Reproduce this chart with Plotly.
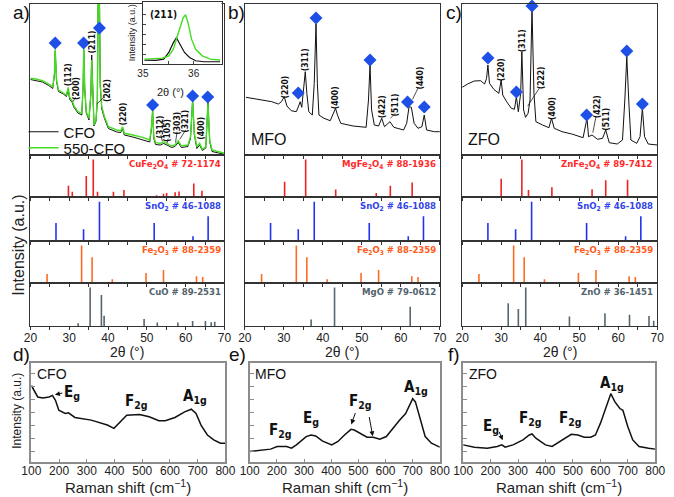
import plotly.graph_objects as go

W, H = 674, 497

# ---------------- DATA ----------------
# Panel a: XRD of CFO and 550-CFO (2theta in deg, intensity a.u.)
a_2theta = [20.0, 21.4, 23.1, 24.75, 25.75, 26.2, 26.4, 26.75, 27.25, 28.5, 29.3, 29.75, 30.1, 30.75, 31.25,
            32.25, 33.25, 33.6, 33.75, 34.0, 34.4, 35.1, 35.6, 35.8, 36.1, 36.4, 36.9, 37.25, 37.5, 37.75,
            38.0, 38.4, 39.1, 40.1, 42.25, 43.3, 43.75, 44.2, 46.4, 48.9, 50.75, 51.2, 51.5, 51.8, 52.25,
            53.5, 54.3, 55.2, 56.4, 57.25, 58.1, 58.9, 60.6, 61.25, 61.8, 62.25, 62.9, 63.6, 64.3, 65.2,
            65.75, 66.2, 66.8, 68.5, 70.0]
a_cfo = [75.5, 74.5, 73, 69.5, 66.5, 80, 104, 73.5, 63.5, 61, 58.5, 66, 56, 52.5, 47.5, 42, 40, 70, 105, 66.5,
         42, 35, 62, 100, 52, 29, 33.5, 53, 175, 175, 69, 46, 36.5, 26.5, 23, 22.5, 26.5, 20, 18, 15.5, 13,
         26.5, 44, 16.5, 10.5, 10, 11.5, 10, 7.5, 8.5, 12.5, 7.5, 8.5, 16.5, 55, 20, 6.5, 10, 4.5, 7, 52.5,
         13.5, 3.5, 2, 0.8]
a_550cfo = [76.7, 76, 74.3, 71, 67.7, 81.7, 105.7, 75, 65, 62.3, 60, 67.7, 57.7, 54.3, 49, 43.3, 41.7, 71.7,
            106.7, 68.3, 43.3, 36.7, 61.7, 95, 55, 30, 35, 55, 175, 175, 71.7, 48.3, 38.3, 28.3, 25, 24.3,
            28.3, 21.7, 20, 17.7, 15, 28.3, 45, 18.3, 12.3, 11.7, 13.3, 11.7, 9, 10, 14.3, 9, 10, 18.3, 53.3,
            21.7, 8.3, 11.7, 5.7, 8.3, 51.7, 15, 5, 3.3, 1.7]

# Inset of panel a: (211) region
inset_2theta_550 = [35.03, 35.19, 35.38, 35.51, 35.6, 35.7, 35.79, 35.84, 35.89, 35.96, 36.04, 36.17, 36.33, 36.52]
inset_550cfo = [5, 5.7, 6, 8.3, 15, 31.7, 46.7, 50, 41.7, 25, 15, 8.3, 5, 4]
inset_2theta_cfo = [35.03, 35.25, 35.41, 35.51, 35.6, 35.66, 35.73, 35.82, 35.92, 36.04, 36.2, 36.52]
inset_cfo = [4, 3.7, 5, 11.7, 21.7, 26.7, 20, 11.7, 6.7, 3.3, 2.3, 2.3]

# Panel b: MFO
b_2theta = [20.3, 21.9, 23.6, 25.3, 26.9, 28.6, 29.4, 30.1, 30.8, 31.9, 33.2, 33.8, 34.2, 34.6, 35.1, 35.5,
            35.9, 36.4, 37.3, 37.8, 38.25, 38.6, 39.0, 40.3, 41.9, 42.75, 43.25, 43.75, 44.6, 47.75, 51.1,
            51.7, 52.1, 52.5, 53.2, 54.3, 55.1, 55.8, 57.2, 58.2, 60.7, 61.5, 62.1, 62.7, 63.4, 64.4, 65.4,
            66.0, 66.6, 68.6, 70.0]
b_mfo = [57.7, 56.7, 55.7, 54.3, 53.3, 51, 53.3, 58.3, 49, 44.3, 43.3, 49, 53.3, 47.7, 65, 83.3, 61.7, 43.3,
         40, 71.7, 131, 71.7, 40, 36.7, 34.3, 41.7, 46.7, 40, 31.7, 29, 27.7, 55, 90, 45, 30, 29, 36.7, 28.3,
         33.3, 27.7, 25, 31.7, 48.3, 47.7, 31.7, 26.7, 28.3, 40, 25, 23.3, 23.3]

# Panel c: ZFO
c_2theta = [20.0, 21.4, 23.1, 24.75, 25.75, 26.25, 26.6, 27.0, 28.1, 29.4, 30.0, 30.4, 31.4, 32.6, 33.4, 33.9,
            34.4, 35.0, 35.3, 35.75, 36.25, 36.9, 37.4, 37.9, 38.4, 38.9, 40.6, 42.25, 42.9, 43.6, 45.6, 48.1,
            51.0, 51.6, 52.0, 52.4, 53.3, 54.7, 56.0, 56.8, 57.7, 59.75, 61.1, 61.7, 62.2, 62.7, 63.25, 64.75,
            65.6, 66.2, 66.75, 67.7, 70.0]
c_zfo = [67.7, 71, 74, 74.3, 71, 76.7, 90, 71.7, 65.7, 61.7, 75, 60, 53.3, 46.7, 45.7, 58.3, 43.3, 61.7, 103.3,
         45, 37.7, 41.7, 55, 146.7, 61.7, 33.3, 30, 27.3, 36.7, 26.7, 23.3, 21, 17.3, 28.3, 36.7, 18.3, 20,
         15.7, 16.7, 25, 12.3, 11, 15, 55, 98.3, 55, 15, 11.7, 18.3, 46.7, 18.3, 11, 10]

# SnO2 markers (diamonds) per panel
a_dia_x = [26.4, 33.7, 37.8, 51.5, 61.8, 65.7]
a_dia_y = [112, 112, 127, 50, 59, 58]
b_dia_x = [33.7, 38.25, 52.1, 61.7, 66.0]
b_dia_y = [62, 137, 95, 53, 48]
c_dia_x = [26.6, 33.9, 37.9, 51.9, 62.2, 66.2]
c_dia_y = [97, 63, 149, 40, 104, 51]

# hkl labels (text, 2theta, y)
a_hkl = [("(112)", 29.75, 80), ("(200)", 31.75, 67), ("(211)", 35.75, 113), ("(202)", 39.75, 64),
         ("(220)", 43.75, 41), ("(312)", 53.5, 28), ("(105)", 55.2, 25), ("(303)", 57.7, 32),
         ("(321)", 59.75, 34), ("(400)", 63.9, 27)]
b_hkl = [("(220)", 30.2, 68), ("(311)", 35.5, 95), ("(400)", 43.2, 57), ("(422)", 55.2, 48),
         ("(511)", 58.6, 50), ("(440)", 64.8, 77)]
c_hkl = [("(220)", 30.0, 85), ("(311)", 35.4, 114), ("(222)", 40.3, 77), ("(400)", 43.0, 47),
         ("(422)", 54.6, 48), ("(511)", 56.8, 36)]
# leader lines (x0, y0, x1, y1)
a_lead = [(31.6, 57.7, 31.0, 53.3), (39.1, 58.3, 37.1, 51), (53.6, 20, 54.0, 14),
          (55.5, 16.5, 55.2, 12), (57.8, 23.3, 57.4, 12.5), (60.0, 25, 58.5, 15.7)]
b_lead = [(58.6, 41.7, 57.3, 36.7), (64.5, 67.7, 63.0, 55.7)]
c_lead = [(39.75, 66.7, 36.8, 49), (54.3, 38.3, 53.5, 22.3)]

# Reference patterns (2theta, relative intensity)
cufe2o4_pos = [29.8, 30.8, 34.4, 36.2, 37.3, 41.4, 44.1, 52.5, 54.3, 55.1, 57.3, 58.3, 62.1, 64.2]
cufe2o4_int = [30, 14, 56, 100, 14, 14, 19, 5, 9, 11, 13, 15, 36, 17]
mgfe2o4_pos = [30.2, 35.6, 37.2, 43.3, 53.7, 57.3, 62.9]
mgfe2o4_int = [41, 100, 2, 20, 11, 30, 39]
znfe2o4_pos = [30.0, 35.3, 37.0, 43.0, 53.3, 56.8, 62.4]
znfe2o4_int = [49, 100, 19, 26, 21, 45, 46]
sno2_pos = [26.6, 33.7, 37.8, 51.9, 61.9, 65.8]
sno2_int = [46, 30, 100, 46, 12, 63]
fe2o3_pos = [24.3, 33.2, 35.9, 41.1, 49.8, 54.3, 62.8, 64.4]
fe2o3_int = [24, 100, 69, 10, 27, 35, 18, 16]
cuo_pos = [32.3, 35.4, 38.3, 39.0, 49.3, 52.7, 58.0, 61.8, 65.1, 66.6, 67.5]
cuo_int = [7, 100, 81, 27, 18, 9, 9, 13, 13, 10, 11]
mgo_pos = [37.0, 43.0, 62.4]
mgo_int = [17, 100, 50]
zno_pos = [31.8, 34.4, 36.3, 47.5, 56.6, 62.9, 67.9, 69.1]
zno_int = [59, 44, 100, 25, 33, 29, 26, 14]

# Raman spectra (shift in cm-1, intensity a.u.)
d_shift = [100, 112, 123, 141, 164, 176, 187, 199, 222, 234, 257, 316, 374, 398, 409, 444, 490, 525, 560, 583,
           618, 653, 677, 694, 712, 735, 758, 782, 800]
d_cfo = [77.3, 70.7, 65.7, 64.7, 65.7, 67.3, 62.3, 52.3, 49, 49.7, 45, 42.3, 37.3, 34, 37.3, 47.3, 48, 45.7,
         41.7, 41.7, 45, 50.7, 53.3, 49, 37.3, 27.3, 22.3, 19, 19]
e_shift = [100, 141, 177, 201, 236, 254, 272, 308, 326, 343, 367, 402, 425, 449, 473, 485, 508, 532, 555, 579,
           603, 627, 650, 674, 692, 700, 710, 728, 746, 769, 800]
e_mfo = [10.7, 11.7, 13, 15.7, 15.7, 14, 17.3, 25.7, 27.3, 26.3, 21.3, 17.3, 20.7, 27.3, 33, 32.3, 28.3, 25, 25,
         23, 25.7, 34, 41.7, 49, 60.7, 64, 60.7, 42.3, 25.7, 19, 15]
f_shift = [100, 141, 188, 224, 241, 253, 282, 318, 341, 351, 365, 400, 424, 459, 494, 518, 541, 565, 582, 600,
           624, 638, 653, 671, 682, 700, 718, 741, 776, 800]
f_zfo = [17.3, 15, 14, 15.7, 17.3, 15, 17.3, 22.3, 27.3, 28.3, 24, 17.3, 15.7, 22.3, 28, 27.3, 25, 25, 27.3, 39,
         57.3, 69, 60.7, 54, 52.3, 35.7, 22.3, 15.7, 14, 13]

# ---------------- FIGURE ----------------
FONT = "Liberation Sans, Arial, sans-serif"
NARROW = "Liberation Sans Narrow, DejaVu Sans Condensed, Arial Narrow, sans-serif"

fig = go.Figure()
layout = {}
annotations = []
shapes = []
n_axes = [0]


def paper_text(text, xpx, ypx, size, angle=0, xanchor='center', color='#222', family=FONT):
    annotations.append(dict(text=text, x=xpx / W, y=1 - ypx / H, xref='paper', yref='paper',
                            xanchor=xanchor, yanchor='middle', showarrow=False, textangle=angle,
                            font=dict(family=family, size=size, color=color)))


def add_axes(xpx, ypx, xrange, yrange, xopts=None, yopts=None):
    n_axes[0] += 1
    n = n_axes[0]
    sx = '' if n == 1 else str(n)
    base = dict(showgrid=False, zeroline=False, showline=True, mirror=True, linecolor='#333',
                linewidth=1, ticks='', showticklabels=False, fixedrange=True,
                tickfont=dict(family=FONT, size=12, color='#222'))
    xd = dict(base, domain=[xpx[0] / W, xpx[1] / W], range=xrange, anchor='y' + sx)
    yd = dict(base, domain=[1 - ypx[1] / H, 1 - ypx[0] / H], range=yrange, anchor='x' + sx)
    if xopts:
        xd.update(xopts)
    if yopts:
        yd.update(yopts)
    layout['xaxis' + sx] = xd
    layout['yaxis' + sx] = yd
    return 'x' + sx, 'y' + sx


cols = [(21, 221), (242, 443), (466, 667)]
rows = [(4, 155), (155, 197), (197, 241), (241, 283), (283, 326)]
tick5 = list(range(20, 71, 5))
ticktxt = [str(v) if v % 10 == 0 else '' for v in tick5]

RED, BLUE, ORANGE, GREY = '#ee2222', '#2233ee', '#ff6a22', '#56666e'
LBL_RED, LBL_BLUE, LBL_ORANGE, LBL_GREY = '#ff2a2a', '#3344e8', '#ff5a1a', '#52626c'

panels = [
    dict(spectra=[("CFO", a_2theta, a_cfo, '#111111', 1.0, 'legend'),
                  ("550-CFO", a_2theta, a_550cfo, '#44dd22', 1.4, 'legend2')],
         dia=(a_dia_x, a_dia_y), hkl=a_hkl, lead=a_lead,
         refs=[(cufe2o4_pos, cufe2o4_int, RED, LBL_RED, "CuFe<sub>2</sub>O<sub>4</sub> # 72-1174"),
               (sno2_pos, sno2_int, BLUE, LBL_BLUE, "SnO<sub>2</sub> # 46-1088"),
               (fe2o3_pos, fe2o3_int, ORANGE, LBL_ORANGE, "Fe<sub>2</sub>O<sub>3</sub> # 88-2359"),
               (cuo_pos, cuo_int, GREY, LBL_GREY, "CuO # 89-2531")],
         name=None),
    dict(spectra=[("MFO", b_2theta, b_mfo, '#111111', 1.0, None)],
         dia=(b_dia_x, b_dia_y), hkl=b_hkl, lead=b_lead,
         refs=[(mgfe2o4_pos, mgfe2o4_int, RED, LBL_RED, "MgFe<sub>2</sub>O<sub>4</sub> # 88-1936"),
               (sno2_pos, sno2_int, BLUE, LBL_BLUE, "SnO<sub>2</sub> # 46-1088"),
               (fe2o3_pos, fe2o3_int, ORANGE, LBL_ORANGE, "Fe<sub>2</sub>O<sub>3</sub> # 88-2359"),
               (mgo_pos, mgo_int, GREY, LBL_GREY, "MgO # 79-0612")],
         name="MFO"),
    dict(spectra=[("ZFO", c_2theta, c_zfo, '#111111', 1.0, None)],
         dia=(c_dia_x, c_dia_y), hkl=c_hkl, lead=c_lead,
         refs=[(znfe2o4_pos, znfe2o4_int, RED, LBL_RED, "ZnFe<sub>2</sub>O<sub>4</sub> # 89-7412"),
               (sno2_pos, sno2_int, BLUE, LBL_BLUE, "SnO<sub>2</sub> # 46-1088"),
               (fe2o3_pos, fe2o3_int, ORANGE, LBL_ORANGE, "Fe<sub>2</sub>O<sub>3</sub> # 88-2359"),
               (zno_pos, zno_int, GREY, LBL_GREY, "ZnO # 36-1451")],
         name="ZFO"),
]

for ci, p in enumerate(panels):
    xr, yr = add_axes(cols[ci], rows[0], [20, 70], [0, 151],
                      xopts=dict(ticks='outside', ticklen=3, tickvals=tick5, tickcolor='#333'))
    for (nm, xs, ys, col, wd, leg) in p['spectra']:
        kw = dict(showlegend=False) if leg is None else dict(showlegend=True, legend=leg)
        fig.add_trace(go.Scatter(x=xs, y=ys, mode='lines', line=dict(color=col, width=wd),
                                 name=nm, xaxis=xr, yaxis=yr, **kw))
    fig.add_trace(go.Scatter(x=p['dia'][0], y=p['dia'][1], mode='markers', cliponaxis=False,
                             marker=dict(symbol='diamond', size=10, color='#1e4fe6'),
                             showlegend=False, xaxis=xr, yaxis=yr))
    for (t, hx, hy) in p['hkl']:
        annotations.append(dict(text='<b>' + t + '</b>', x=hx, y=hy, xref=xr, yref=yr, showarrow=False,
                                textangle=-90, font=dict(family=NARROW, size=8.5, color='#111')))
    for (x0, y0, x1, y1) in p['lead']:
        shapes.append(dict(type='line', x0=x0, y0=y0, x1=x1, y1=y1, xref=xr, yref=yr,
                           line=dict(color='#222', width=0.8)))
    if p['name']:
        annotations.append(dict(text=p['name'], x=0.02, y=0.03, xref=xr + ' domain', yref=yr + ' domain',
                                xanchor='left', yanchor='bottom', showarrow=False,
                                font=dict(family=FONT, size=16, color='#111')))
    for ri, (pos, inten, col, lcol, label) in enumerate(p['refs']):
        last = ri == 3
        xo = dict(ticks='outside', ticklen=3, tickvals=tick5, tickcolor='#333')
        if last:
            xo.update(showticklabels=True, ticktext=ticktxt, ticklabelstandoff=-2)
        xr2, yr2 = add_axes(cols[ci], rows[ri + 1], [20, 70], [0, 112], xopts=xo)
        lx, ly = [], []
        for q, v in zip(pos, inten):
            lx += [q, q, None]
            ly += [0, v, None]
        fig.add_trace(go.Scatter(x=lx, y=ly, mode='lines', line=dict(color=col, width=1.6),
                                 showlegend=False, xaxis=xr2, yaxis=yr2))
        annotations.append(dict(text='<b>' + label + '</b>', x=0.99, y=0.97, xref=xr2 + ' domain',
                                yref=yr2 + ' domain', xanchor='right', yanchor='top', showarrow=False,
                                font=dict(family=NARROW, size=9.5, color=lcol)))
    paper_text('2θ (°)', (cols[ci][0] + cols[ci][1]) / 2, 352, 14)

# inset
xi, yi = add_axes((137, 218), (2, 64), [35, 36.55], [0, 63],
                  xopts=dict(ticks='inside', ticklen=3, tickvals=[35, 35.5, 36], ticktext=['35', '', '36'],
                             showticklabels=True, tickfont=dict(family=FONT, size=10, color='#222')),
                  yopts=dict(ticks='inside', ticklen=3, tickvals=[10, 20, 30, 40, 50]))
fig.add_trace(go.Scatter(x=inset_2theta_cfo, y=inset_cfo, mode='lines', line=dict(color='#111', width=1.2),
                         showlegend=False, xaxis=xi, yaxis=yi))
fig.add_trace(go.Scatter(x=inset_2theta_550, y=inset_550cfo, mode='lines', line=dict(color='#44dd22', width=1.4),
                         showlegend=False, xaxis=xi, yaxis=yi))
annotations.append(dict(text='<b>(211)</b>', x=35.4, y=50, xref=xi, yref=yi, showarrow=False,
                        font=dict(family=NARROW, size=10, color='#111')))
paper_text('2θ (°)', 165, 92, 11)
paper_text('Intensity (a.u.)', 126, 33, 9, angle=-90)

# Raman panels
raman = [((22, 222), d_shift, d_cfo, "CFO",
          [("<b>E<sub>g</sub></b>", 248, 70), ("<b>F<sub>2g</sub></b>", 479, 61), ("<b>A<sub>1g</sub></b>", 689, 66)],
          [(185, 68, 217, 70)]),
         ((247, 443), e_shift, e_mfo, "MFO",
          [("<b>F<sub>2g</sub></b>", 213, 32), ("<b>E<sub>g</sub></b>", 325, 44),
           ("<b>F<sub>2g</sub></b>", 509, 61), ("<b>A<sub>1g</sub></b>", 711, 75)],
          [(474, 38, 491, 51), (553, 26, 539, 47)]),
         ((467, 665), f_shift, f_zfo, "ZFO",
          [("<b>E<sub>g</sub></b>", 200, 36), ("<b>F<sub>2g</sub></b>", 347, 44),
           ("<b>F<sub>2g</sub></b>", 492, 44), ("<b>A<sub>1g</sub></b>", 641, 79)],
          [(244, 22, 229, 32)])]
for (xpx, sx_, sy_, nm, labs, arrows) in raman:
    xr, yr = add_axes(xpx, (363, 462), [100, 800], [0, 100],
                      xopts=dict(linecolor='#8c8c8c', linewidth=2, ticks='inside', ticklen=3,
                                 tickvals=list(range(100, 801, 100)), showticklabels=True, tickcolor='#8c8c8c',
                                 ticklabelstandoff=-3),
                      yopts=dict(linecolor='#8c8c8c', linewidth=2, ticks='inside', ticklen=4,
                                 tickvals=[11, 24, 37, 50, 63, 76, 89], tickcolor='#8c8c8c'))
    fig.add_trace(go.Scatter(x=sx_, y=sy_, mode='lines', line=dict(color='#111', width=1.5),
                             showlegend=False, xaxis=xr, yaxis=yr))
    annotations.append(dict(text=nm, x=0.02, y=0.99, xref=xr + ' domain', yref=yr + ' domain',
                            xanchor='left', yanchor='top', showarrow=False,
                            font=dict(family=FONT, size=14, color='#111')))
    for (t, lx, ly) in labs:
        annotations.append(dict(text=t, x=lx, y=ly, xref=xr, yref=yr, showarrow=False,
                                font=dict(family=NARROW, size=15, color='#111')))
    for (hx, hy, tx, ty) in arrows:
        annotations.append(dict(text='', x=hx, y=hy, ax=tx, ay=ty, xref=xr, yref=yr, axref=xr, ayref=yr,
                                showarrow=True, arrowhead=2, arrowsize=1, arrowwidth=1, arrowcolor='#111'))
    paper_text('Raman shift (cm<sup>−1</sup>)', (xpx[0] + xpx[1]) / 2, 486, 15)

# panel letters and global titles
for (t, x, y) in [("a)", 1, 13), ("b)", 223, 13), ("c)", 447, 13), ("d)", 1, 354), ("e)", 224, 354),
                  ("f)", 449, 354)]:
    paper_text(t, x, y, 19, xanchor='left', color='#111')
paper_text('Intensity (a.u.)', 8, 245, 16, angle=-90)
paper_text('Intensity (a.u.)', 7, 411, 12, angle=-90)

leg_common = dict(xanchor='left', yanchor='middle', bgcolor='rgba(0,0,0,0)',
                  font=dict(family=FONT, size=15, color='#111'), itemwidth=30, tracegroupgap=0)
fig.update_layout(layout)
fig.update_layout(width=W, height=H, margin=dict(l=0, r=0, t=0, b=0), paper_bgcolor='white',
                  plot_bgcolor='white', annotations=annotations, shapes=shapes,
                  legend=dict(leg_common, x=14 / W, y=1 - 132 / H),
                  legend2=dict(leg_common, x=14 / W, y=1 - 148 / H))
fig.write_html("out.html")
